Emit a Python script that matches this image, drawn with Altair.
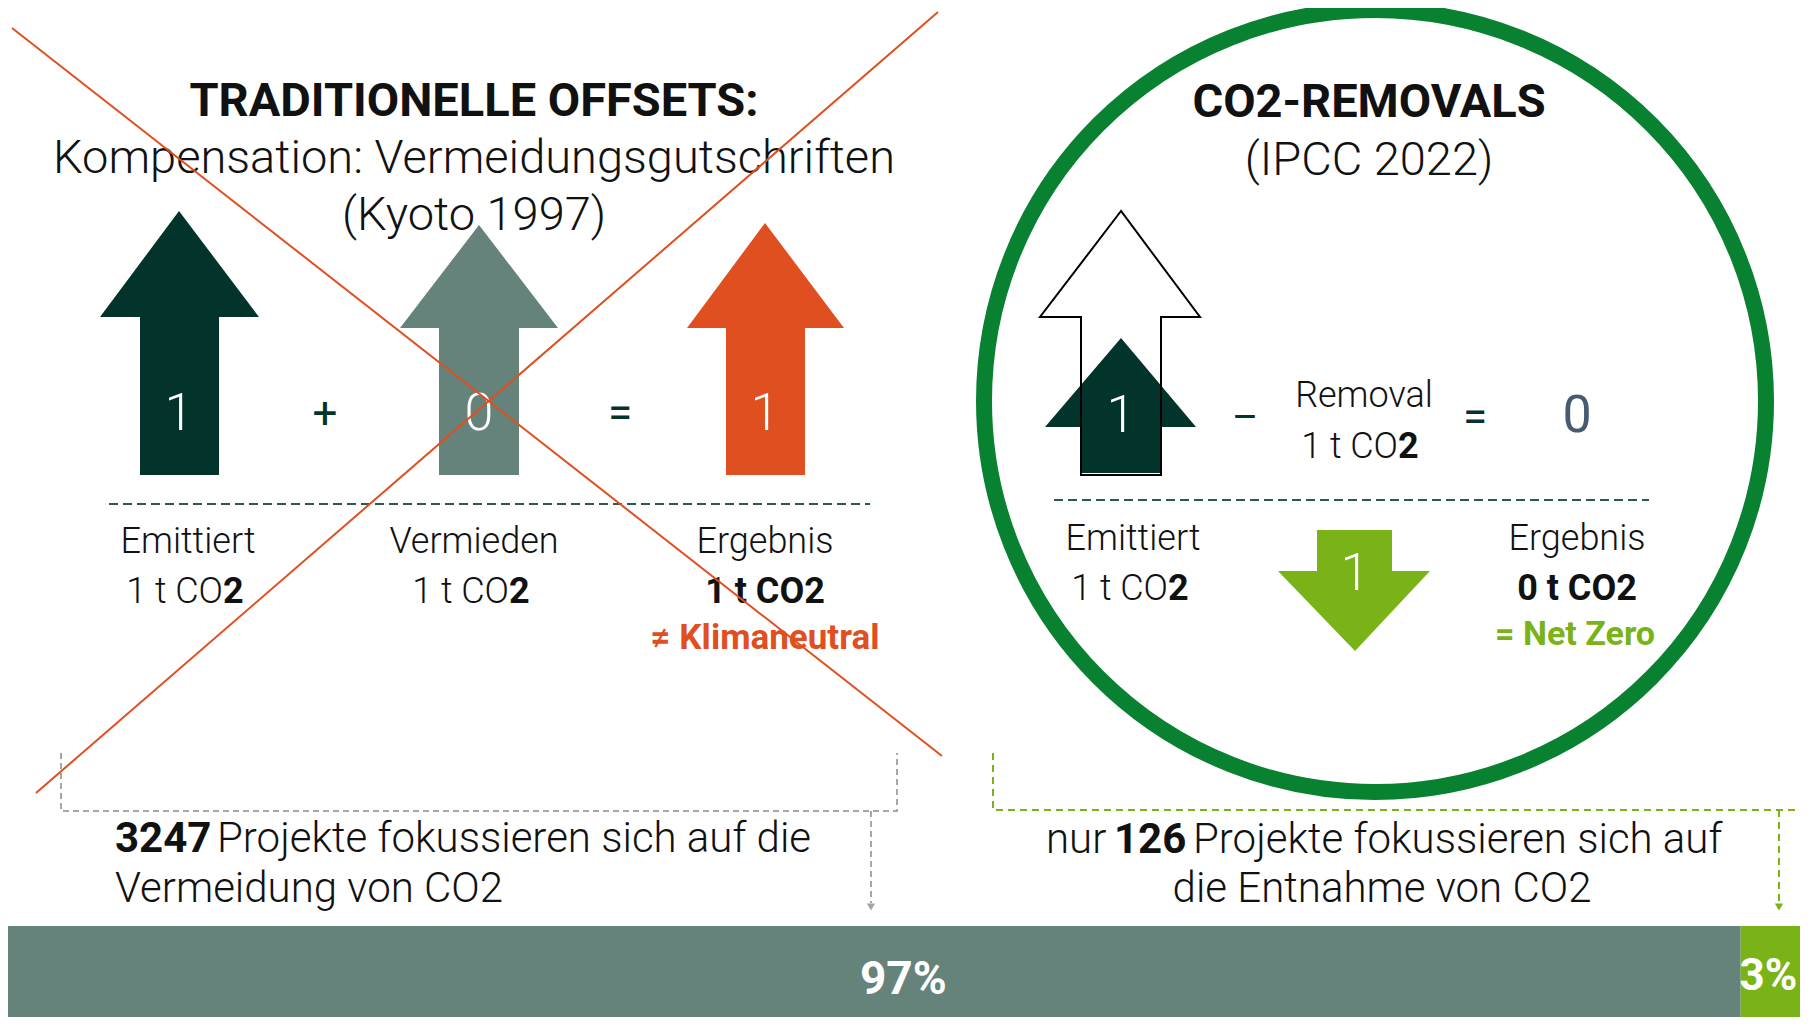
import altair as alt
import pandas as pd

# ---------------- data ----------------
segments = ["Vermeidung", "Entnahme"]
project_counts = [3247, 126]
share_labels = ["97%", "3%"]
segment_colors = ["#65837B", "#7AB317"]

# ---------------- canvas (reference pixel space) ----------------
PAGE_W, PAGE_H, MARGIN = 1808, 1025, 8
VIEW_W, VIEW_H = PAGE_W - 2 * MARGIN, PAGE_H - 2 * MARGIN
X_END, Y_END = PAGE_W - MARGIN, PAGE_H - MARGIN

DARK = "#03342B"
GRAY = "#65837B"
ORANGE = "#E04F1F"
LIME = "#7AB317"
RING = "#088130"
SLATE = "#475A72"
DASH = "#2A5A4E"
INK = "#111111"
FONT = "Roboto"

xs = alt.Scale(domain=[MARGIN, X_END], nice=False, zero=False)
ys = alt.Scale(domain=[MARGIN, Y_END], nice=False, zero=False, reverse=True)


def X(f="x"):
    return alt.X(f"{f}:Q", scale=xs, axis=None)


def Y(f="y"):
    return alt.Y(f"{f}:Q", scale=ys, axis=None)


# ---------------- arrow shapes ----------------
def up_arrow(aid, cx, tip, base, bottom, head, shaft, fill):
    return [
        dict(id=aid, y=tip, x=cx, x2=cx, fill=fill),
        dict(id=aid, y=base, x=head[0], x2=head[1], fill=fill),
        dict(id=aid, y=base + 0.01, x=shaft[0], x2=shaft[1], fill=fill),
        dict(id=aid, y=bottom, x=shaft[0], x2=shaft[1], fill=fill),
    ]


def down_arrow(aid, cx, top, base, tip, head, shaft, fill):
    return [
        dict(id=aid, y=top, x=shaft[0], x2=shaft[1], fill=fill),
        dict(id=aid, y=base, x=shaft[0], x2=shaft[1], fill=fill),
        dict(id=aid, y=base + 0.01, x=head[0], x2=head[1], fill=fill),
        dict(id=aid, y=tip, x=cx, x2=cx, fill=fill),
    ]


filled_arrows = pd.DataFrame(
    up_arrow("a1", 179, 211, 317, 475, (100, 259), (140, 219), DARK)
    + up_arrow("a2", 479, 225, 328, 475, (400, 558), (439, 519), GRAY)
    + up_arrow("a3", 765, 223, 328, 475, (687, 844), (726, 805), ORANGE)
    + up_arrow("a4", 1121, 338, 427, 473, (1045, 1196), (1081, 1161), DARK)
    + down_arrow("a5", 1355, 530, 571, 651, (1278, 1430), (1317, 1392), LIME)
)
outline_arrow = pd.DataFrame(
    up_arrow("o1", 1121, 211, 317, 475, (1040, 1200), (1081, 1161), "#000")
)

arrows_layer = alt.Chart(filled_arrows).mark_area(orient="horizontal", interpolate="linear").encode(
    y=Y(), x=alt.X("x:Q", scale=xs, axis=None, stack=None), x2="x2:Q",
    fill=alt.Fill("fill:N", scale=None), detail="id:N",
)
outline_layer = alt.Chart(outline_arrow).mark_area(
    orient="horizontal", interpolate="linear", color="white", fillOpacity=0,
    stroke="#000000", strokeWidth=2
).encode(y=Y(), x=alt.X("x:Q", scale=xs, axis=None, stack=None), x2="x2:Q")

# ---------------- ring ----------------
ring = alt.Chart(pd.DataFrame({"x": [1375], "y": [401]})).mark_point(
    shape="circle", filled=False, stroke=RING, strokeWidth=16, opacity=1, size=782 ** 2
).encode(x=X(), y=Y())


# ---------------- lines ----------------
def polyline(points, color, width, dash=None):
    df = pd.DataFrame({"i": list(range(len(points))),
                       "x": [p[0] for p in points], "y": [p[1] for p in points]})
    kw = dict(color=color, strokeWidth=width)
    if dash:
        kw["strokeDash"] = dash
    return alt.Chart(df).mark_line(**kw).encode(x=X(), y=Y(), order="i:Q")


cross_a = polyline([(12, 28), (942, 756)], ORANGE, 2)
cross_b = polyline([(938, 12), (36, 793)], ORANGE, 2)
dash_left = polyline([(109, 504), (870, 504)], DASH, 2, [9, 5])
dash_right = polyline([(1054, 500), (1649, 500)], DASH, 2, [9, 5])
bracket_left = polyline([(61, 753), (61, 811), (897, 811), (897, 753)], "#A6A6A6", 2, [6, 4])
bracket_right = polyline([(993, 753), (993, 810), (1806, 810), (1806, 753)], LIME, 2, [7, 5])
drop_left = polyline([(871, 811), (871, 903)], "#A6A6A6", 2, [6, 4])
drop_right = polyline([(1779, 810), (1779, 903)], LIME, 2, [7, 5])
heads = alt.Chart(pd.DataFrame({"x": [871, 1779], "y": [907, 907], "c": ["#A6A6A6", LIME]})).mark_point(
    shape="triangle-down", filled=True, opacity=1, size=70
).encode(x=X(), y=Y(), color=alt.Color("c:N", scale=None))

# ---------------- texts (x, y, text, size, weight, color, align, baseline) ----------------
texts = [
    (474, 116, "TRADITIONELLE  OFFSETS:", 47, 700, INK, "center", "alphabetic"),
    (474, 173, "Kompensation: Vermeidungsgutschriften", 47, 300, INK, "center", "alphabetic"),
    (474, 230, "(Kyoto 1997)", 47, 300, INK, "center", "alphabetic"),
    (179, 430, "1", 52, 300, "white", "center", "alphabetic"),
    (325, 415, "+", 44, 400, DARK, "center", "middle"),
    (479, 430, "0", 52, 300, "white", "center", "alphabetic"),
    (620, 415, "=", 44, 400, DARK, "center", "middle"),
    (765, 430, "1", 52, 300, "white", "center", "alphabetic"),
    (188, 553, "Emittiert", 36, 300, INK, "center", "alphabetic"),
    (474, 553, "Vermieden", 36, 300, INK, "center", "alphabetic"),
    (765, 553, "Ergebnis", 36, 300, INK, "center", "alphabetic"),
    (223, 603, "1 t CO", 36, 300, INK, "right", "alphabetic"),
    (223, 603, "2", 36, 700, INK, "left", "alphabetic"),
    (509, 603, "1 t CO", 36, 300, INK, "right", "alphabetic"),
    (509, 603, "2", 36, 700, INK, "left", "alphabetic"),
    (765, 603, "1 t CO2", 36, 700, INK, "center", "alphabetic"),
    (765, 649, "≠ Klimaneutral", 35, 700, ORANGE, "center", "alphabetic"),
    (115, 852, "3247", 42, 700, INK, "left", "alphabetic"),
    (217, 852, "Projekte fokussieren sich auf die", 42, 300, INK, "left", "alphabetic"),
    (115, 902, "Vermeidung von CO2", 42, 300, INK, "left", "alphabetic"),
    (1369, 117, "CO2-REMOVALS", 47, 700, INK, "center", "alphabetic"),
    (1369, 175, "(IPCC 2022)", 47, 300, INK, "center", "alphabetic"),
    (1121, 432, "1", 52, 300, "white", "center", "alphabetic"),
    (1245, 419, "–", 40, 400, DARK, "center", "middle"),
    (1364, 407, "Removal", 36, 300, INK, "center", "alphabetic"),
    (1398, 458, "1 t CO", 36, 300, INK, "right", "alphabetic"),
    (1398, 458, "2", 36, 700, INK, "left", "alphabetic"),
    (1475, 419, "=", 44, 400, DARK, "center", "middle"),
    (1577, 432, "0", 52, 400, SLATE, "center", "alphabetic"),
    (1133, 550, "Emittiert", 36, 300, INK, "center", "alphabetic"),
    (1168, 600, "1 t CO", 36, 300, INK, "right", "alphabetic"),
    (1168, 600, "2", 36, 700, INK, "left", "alphabetic"),
    (1355, 590, "1", 52, 300, "white", "center", "alphabetic"),
    (1577, 550, "Ergebnis", 36, 300, INK, "center", "alphabetic"),
    (1577, 600, "0 t CO2", 36, 700, INK, "center", "alphabetic"),
    (1575, 645, "= Net Zero", 34, 700, LIME, "center", "alphabetic"),
    (1046, 853, "nur", 42, 300, INK, "left", "alphabetic"),
    (1114, 853, "126", 42, 700, INK, "left", "alphabetic"),
    (1193, 853, "Projekte fokussieren sich auf", 42, 300, INK, "left", "alphabetic"),
    (1382, 902, "die Entnahme von CO2", 42, 300, INK, "center", "alphabetic"),
]


def text_layer(x, y, s, size, weight, color, align, baseline):
    df = pd.DataFrame({"x": [x], "y": [y], "t": [s]})
    return alt.Chart(df).mark_text(
        font=FONT, fontSize=size, fontWeight=weight, color=color, align=align, baseline=baseline
    ).encode(x=X(), y=Y(), text="t:N")


text_layers = [text_layer(*t) for t in texts]

# ---------------- bottom share bar (project counts) ----------------
ends = pd.Series(project_counts).cumsum()
bar_df = pd.DataFrame({
    "segment": segments,
    "count": project_counts,
    "start": ends - pd.Series(project_counts),
    "end": ends,
    "label": share_labels,
    "color": segment_colors,
    "y": [926] * 2,
    "y2": [Y_END] * 2,
})
bar_df["mid"] = (bar_df["start"] + bar_df["end"]) / 2
total = sum(project_counts)
# bar spans reference x 6 .. 1808 (right edge of the page)
cs = alt.Scale(domain=[0, total], range=[6 - MARGIN, PAGE_W - MARGIN], nice=False, zero=False)

bars = alt.Chart(bar_df).mark_bar(cornerRadius=0).encode(
    x=alt.X("start:Q", scale=cs, axis=None), x2="end:Q",
    y=Y(), y2="y2:Q",
    fill=alt.Fill("color:N", scale=None),
)
lab_big = alt.Chart(bar_df.iloc[[0]]).mark_text(
    font=FONT, fontSize=46, fontWeight=700, color="white", align="center", baseline="alphabetic", dx=30
).encode(x=alt.X("mid:Q", scale=cs, axis=None), y=alt.Y("ybase:Q", scale=ys, axis=None), text="label:N").transform_calculate(ybase="994")
lab_small = alt.Chart(bar_df.iloc[[1]]).mark_text(
    font=FONT, fontSize=44, fontWeight=700, color="white", align="center", baseline="alphabetic", dx=-6
).encode(x=alt.X("mid:Q", scale=cs, axis=None), y=alt.Y("ybase:Q", scale=ys, axis=None), text="label:N").transform_calculate(ybase="990")

bar_block = alt.layer(bars, lab_big, lab_small)

main = alt.layer(
    ring, dash_left, dash_right, arrows_layer, outline_layer,
    bracket_left, bracket_right, drop_left, drop_right, heads,
    *text_layers, cross_a, cross_b,
)

chart = alt.layer(main, bar_block).resolve_scale(x="independent").properties(
    width=VIEW_W, height=VIEW_H, padding=0, autosize=alt.AutoSizeParams(type="none"),
    background="white",
).configure_view(stroke=None)

chart.save("out.html", embed_options={"renderer": "svg", "actions": False})
